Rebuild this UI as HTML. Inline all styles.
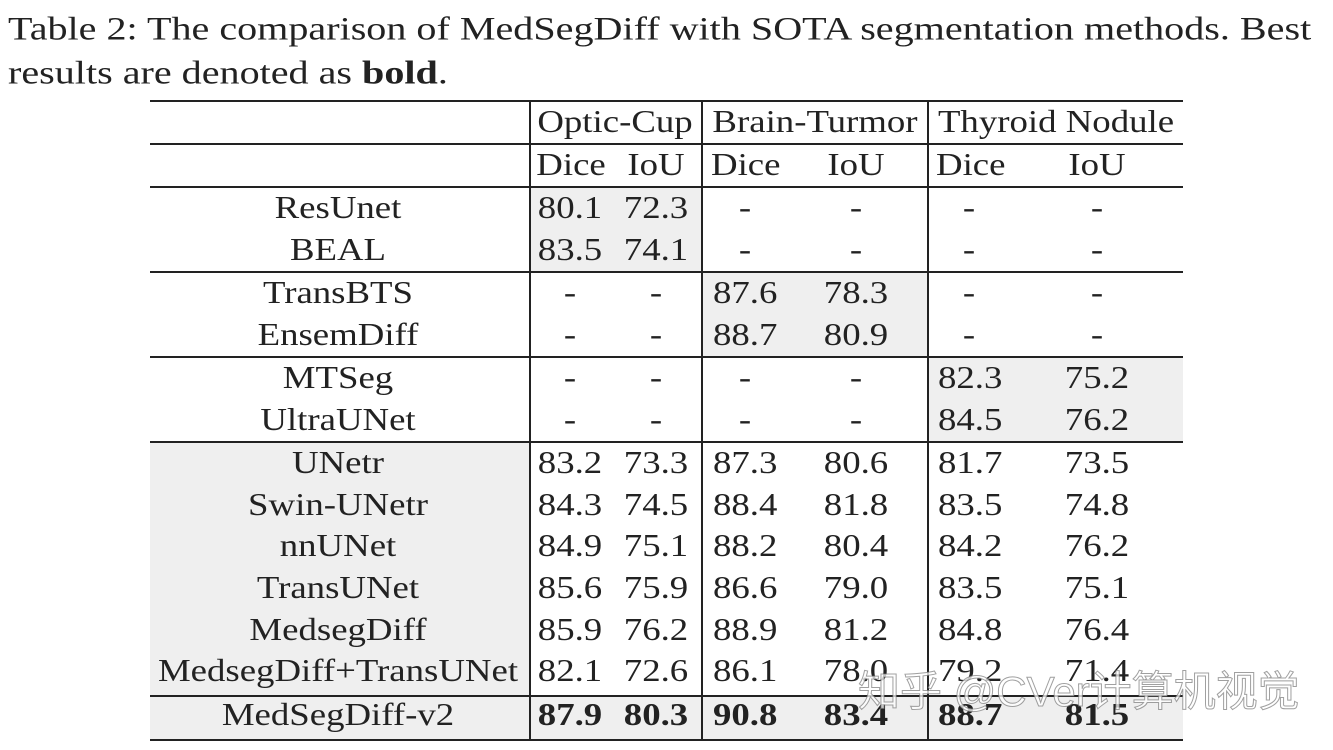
<!DOCTYPE html>
<html><head><meta charset="utf-8"><style>
body{margin:0;width:1333px;height:750px;background:#fff;position:relative;overflow:hidden;font-family:"Liberation Serif",serif;color:#222}
.t{position:absolute;font-size:32px;white-space:nowrap;transform:translate(-50%,-50%) scaleX(1.15);line-height:1}
.l{position:absolute;font-size:32px;white-space:nowrap;transform:translateY(-50%) scaleX(1.15);transform-origin:0 50%;line-height:1}
.c{position:absolute;font-size:33px;white-space:nowrap;transform:translateY(-50%) scaleX(1.215);transform-origin:0 50%;line-height:1}
.h{position:absolute;left:150px;width:1033px;height:2px;background:#222}
.v{position:absolute;width:2px;background:#222}
.g{position:absolute;background:#efefef}
b{font-weight:bold}
</style></head><body>
<div class="c" style="left:8px;top:30px">Table 2: The comparison of MedSegDiff with SOTA segmentation methods. Best</div>
<div class="c" style="left:8px;top:74px">results are denoted as <b>bold</b>.</div>

<div class="g" style="left:530px;top:187px;width:172px;height:85px"></div>
<div class="g" style="left:702px;top:272px;width:226px;height:85px"></div>
<div class="g" style="left:928px;top:357px;width:255px;height:85px"></div>
<div class="g" style="left:150px;top:442px;width:380px;height:254px"></div>
<div class="g" style="left:150px;top:696px;width:1033px;height:44px"></div>

<div class="h" style="top:100px"></div>
<div class="h" style="top:143px"></div>
<div class="h" style="top:186px"></div>
<div class="h" style="top:271px"></div>
<div class="h" style="top:356px"></div>
<div class="h" style="top:441px"></div>
<div class="h" style="top:695px"></div>
<div class="h" style="top:739px"></div>
<div class="v" style="left:529px;top:100px;height:641px"></div>
<div class="v" style="left:701px;top:100px;height:641px"></div>
<div class="v" style="left:927px;top:100px;height:641px"></div>

<div class="t" style="left:615px;top:121px">Optic-Cup</div>
<div class="t" style="left:815px;top:121px">Brain-Turmor</div>
<div class="t" style="left:1056px;top:121px">Thyroid Nodule</div>
<div class="t" style="left:571px;top:164px">Dice</div>
<div class="t" style="left:656px;top:164px">IoU</div>
<div class="l" style="left:711px;top:164px">Dice</div>
<div class="t" style="left:856px;top:164px">IoU</div>
<div class="l" style="left:936px;top:164px">Dice</div>
<div class="t" style="left:1097px;top:164px">IoU</div>

<div id="rows"></div>
<script>
var R=[
["ResUnet",207,"80.1","72.3","-","-","-","-"],
["BEAL",249,"83.5","74.1","-","-","-","-"],
["TransBTS",292,"-","-","87.6","78.3","-","-"],
["EnsemDiff",334,"-","-","88.7","80.9","-","-"],
["MTSeg",377,"-","-","-","-","82.3","75.2"],
["UltraUNet",419,"-","-","-","-","84.5","76.2"],
["UNetr",462,"83.2","73.3","87.3","80.6","81.7","73.5"],
["Swin-UNetr",504,"84.3","74.5","88.4","81.8","83.5","74.8"],
["nnUNet",545,"84.9","75.1","88.2","80.4","84.2","76.2"],
["TransUNet",587,"85.6","75.9","86.6","79.0","83.5","75.1"],
["MedsegDiff",629,"85.9","76.2","88.9","81.2","84.8","76.4"],
["MedsegDiff+TransUNet",670,"82.1","72.6","86.1","78.0","79.2","71.4"],
["MedSegDiff-v2",714,"87.9","80.3","90.8","83.4","88.7","81.5"]];
var X=[570,656,745,856,969,1097],h="";
R.forEach(function(r,i){
 var bold=i==12;
 h+='<div class="t" style="left:338px;top:'+r[1]+'px">'+r[0]+'</div>';
 for(var j=0;j<6;j++){
  var v=r[j+2];
  var lft=(j==2||j==4)&&v!="-";
  var x=X[j];
  h+='<div class="'+(lft?'l':'t')+'" style="left:'+(lft?(j==2?713:938):x)+'px;top:'+r[1]+'px;'+(bold?'font-weight:bold;':'')+'">'+v+'</div>';
 }
});
document.getElementById('rows').innerHTML=h;
</script>
<div style="position:absolute;left:858px;top:692px;transform:translateY(-50%);line-height:1;white-space:nowrap;font-size:42px;font-family:'Liberation Sans','Noto Sans CJK SC',sans-serif;color:rgba(255,255,255,0.75);-webkit-text-stroke:1px rgba(120,120,120,0.7)">知乎 @CVer计算机视觉</div>
</body></html>
